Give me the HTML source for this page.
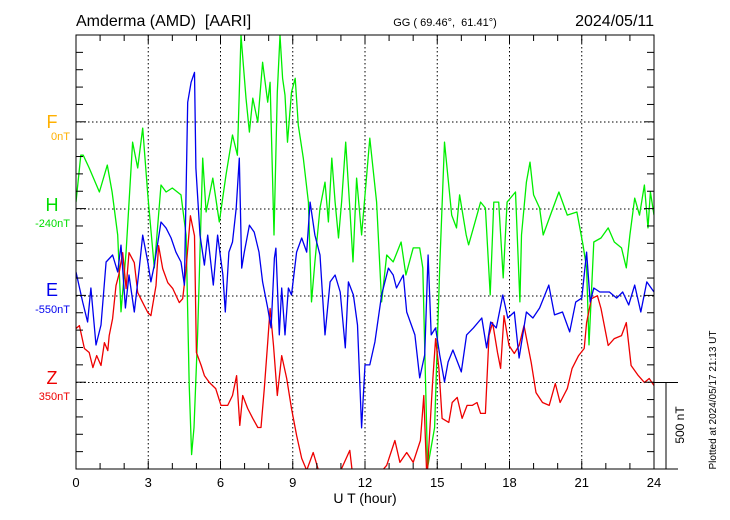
<!DOCTYPE html>
<html><head><meta charset="utf-8"><style>
body{margin:0;background:#fff}
svg{display:block;font-family:"Liberation Sans",sans-serif}
</style></head><body>
<svg id="chart" width="730" height="520" viewBox="0 0 730 520" xmlns="http://www.w3.org/2000/svg">
<defs><clipPath id="plotClip"><rect x="76" y="35" width="578" height="434"/></clipPath></defs>
<text x="76" y="26" font-size="16">Amderma (AMD)&#160; [AARI]</text>
<text x="445" y="26" font-size="11" text-anchor="middle">GG ( 69.46°,&#160; 61.41°)</text>
<text x="654" y="26" font-size="16" text-anchor="end">2024/05/11</text>
<g id="grid"></g>
<g id="series" clip-path="url(#plotClip)"></g>
<g id="axes"></g>
<text x="52" y="128" font-size="18" fill="#ffb000" text-anchor="middle">F</text>
<text x="70" y="140" font-size="11" fill="#ffb000" text-anchor="end">0nT</text>
<text x="52" y="211" font-size="18" fill="#00dd00" text-anchor="middle">H</text>
<text x="70" y="227" font-size="11" fill="#00dd00" text-anchor="end">-240nT</text>
<text x="52" y="296" font-size="18" fill="#0000ee" text-anchor="middle">E</text>
<text x="70" y="313" font-size="11" fill="#0000ee" text-anchor="end">-550nT</text>
<text x="52" y="384" font-size="18" fill="#ee0000" text-anchor="middle">Z</text>
<text x="70" y="400" font-size="11" fill="#ee0000" text-anchor="end">350nT</text>
<text x="365" y="503" font-size="14" text-anchor="middle">U T (hour)</text>
<text x="0" y="0" font-size="12" text-anchor="middle" transform="translate(684,425) rotate(-90)">500 nT</text>
<text x="0" y="0" font-size="10" text-anchor="middle" transform="translate(716,400) rotate(-90)">Plotted at 2024/05/17 21:13 UT</text>
</svg>
<script>
const xTicks=[0,3,6,9,12,15,18,21,24];
const hTimes=[0,0.2,0.3,0.55,0.97,1.3,1.5,1.73,1.87,2.08,2.35,2.56,2.77,2.98,3.25,3.53,3.74,4.0,4.36,4.57,4.7,4.8,4.9,5.05,5.26,5.4,5.68,5.95,6.23,6.5,6.7,6.85,7.06,7.2,7.34,7.55,7.75,7.96,8.06,8.22,8.36,8.47,8.58,8.68,8.78,8.95,9.1,9.23,9.44,9.65,9.78,9.92,10.13,10.34,10.48,10.62,10.76,10.9,11.03,11.2,11.37,11.5,11.65,11.86,12.07,12.2,12.48,12.69,12.9,13.17,13.5,13.7,14,14.27,14.4,14.6,14.89,15.1,15.3,15.6,15.8,15.93,16.2,16.3,16.5,16.8,17,17.2,17.35,17.55,17.74,17.9,18.25,18.43,18.5,18.7,18.85,19,19.25,19.4,19.7,20.05,20.4,20.8,21.05,21.2,21.3,21.5,21.8,22.1,22.35,22.65,22.85,23,23.2,23.4,23.6,23.75,23.85,24];
const hValues=[40,310,310,236,98,253,98,-150,-592,-247,385,236,466,81,-339,138,98,121,81,-150,-1012,-1415,-1259,-725,293,-17,178,-75,196,426,310,1000,638,443,638,500,845,615,730,-150,673,1000,753,656,385,673,753,483,293,40,-535,-305,6,155,-75,293,40,-167,40,385,6,-305,178,-150,196,408,40,-535,-265,-305,-190,-380,-224,-224,-339,-1489,-1259,-339,385,-35,-109,81,-150,-207,-109,40,6,-495,40,40,-397,40,98,-535,-150,155,270,81,6,-150,-35,98,-35,-17,-207,-339,-782,-190,-167,-109,-190,-224,-339,-150,63,-35,138,-109,98,-35];
const eTimes=[0,0.28,0.48,0.62,0.83,1.04,1.25,1.52,1.73,1.87,2.05,2.2,2.42,2.63,2.77,2.98,3.11,3.25,3.53,3.74,3.95,4.15,4.36,4.5,4.64,4.78,4.92,4.98,5.15,5.33,5.47,5.7,5.88,6.1,6.2,6.35,6.5,6.65,6.78,6.88,6.99,7.2,7.4,7.6,7.75,7.96,8.1,8.24,8.3,8.44,8.54,8.68,8.82,8.95,9.16,9.37,9.58,9.72,9.92,10.13,10.34,10.55,10.76,10.97,11.18,11.31,11.52,11.69,11.86,12.0,12.2,12.41,12.69,12.97,13.17,13.31,13.59,13.73,14.07,14.27,14.48,14.62,14.75,14.93,15.1,15.3,15.45,15.65,16.0,16.22,16.5,16.85,17.05,17.22,17.45,17.72,17.93,18.2,18.4,18.7,18.97,19.25,19.63,19.87,20.2,20.5,20.75,21.0,21.2,21.35,21.5,21.75,22.15,22.45,22.7,22.95,23.2,23.45,23.7,24];
const eValues=[138,-35,-150,46,-282,-167,196,236,138,293,-69,121,-92,161,351,196,81,178,426,391,334,253,196,63,1116,1231,1288,736,351,178,351,63,351,121,-92,253,311,506,794,161,253,408,368,253,81,-69,-184,219,276,-224,46,-224,46,6,253,334,253,541,351,236,-224,81,121,23,-299,81,6,-167,-759,-397,-397,-265,6,161,121,46,121,-92,-224,-472,-339,236,-224,-184,-339,-495,-380,-311,-437,-224,-184,-127,-299,-150,-184,6,-127,-92,-357,-92,-127,-69,63,-109,-92,-207,-35,-12,253,-35,46,23,23,-12,23,-52,63,-92,81,23];
const zTimes=[0,0.14,0.35,0.55,0.7,0.86,1.04,1.18,1.32,1.38,1.52,1.66,1.77,1.94,2.08,2.2,2.42,2.56,2.77,2.98,3.11,3.32,3.43,3.6,3.81,4.02,4.29,4.43,4.57,4.75,4.92,5.0,5.2,5.33,5.54,5.8,6.02,6.3,6.5,6.67,6.8,6.92,7.13,7.34,7.55,7.68,7.82,7.96,8.06,8.2,8.36,8.54,8.75,8.95,9.16,9.37,9.58,9.85,10.13,10.5,10.9,11.37,11.5,12.2,12.9,13.24,13.45,13.73,14.0,14.3,14.44,14.57,14.8,14.93,15.07,15.2,15.48,15.62,15.83,16.03,16.24,16.45,16.65,16.8,17.0,17.15,17.3,17.5,17.63,17.77,17.98,18.2,18.4,18.6,18.9,19.1,19.37,19.65,19.9,20.1,20.4,20.6,20.87,21.1,21.2,21.4,21.65,21.8,22.1,22.35,22.65,22.85,23.05,23.35,23.6,23.8,24];
const zValues=[311,328,196,173,86,155,98,230,184,270,368,558,615,748,541,748,690,518,460,403,385,558,788,656,575,541,460,483,656,960,845,173,98,40,0,-35,-132,-132,-75,40,-247,-75,-150,-207,-259,-259,-35,230,426,213,-75,155,23,-150,-305,-437,-506,-403,-535,-563,-535,-391,-552,-592,-477,-334,-460,-403,-460,-334,-75,-563,-17,253,81,-207,-230,-115,-86,-207,-132,-132,-115,-178,-178,270,345,173,81,385,213,167,213,328,115,-58,-115,-132,-6,-115,-35,81,155,196,345,483,500,426,213,253,270,345,98,40,0,23,-17];

const NS='http://www.w3.org/2000/svg';
const X0=76,X1=654,Y0=35,Y1=469;
const nTperPx=500/86.8;
function xScale(h){return X0+h*(X1-X0)/24;}
function yScale(dev,baseY){return baseY-dev/nTperPx;}
function mk(tag,attrs,parent){const e=document.createElementNS(NS,tag);for(const k in attrs)e.setAttribute(k,attrs[k]);parent.appendChild(e);return e;}
const grid=document.getElementById('grid'),axes=document.getElementById('axes'),series=document.getElementById('series');
const baselines=[122,209,296,382.5];
xTicks.slice(1,-1).forEach(t=>{const l=mk('line',{x1:xScale(t),x2:xScale(t),y1:Y0,y2:Y1,stroke:'#000','stroke-width':1,'stroke-dasharray':'1.5,2.5'},grid);

});
baselines.forEach(y=>{const l=mk('line',{x1:X0,x2:X1,y1:y,y2:y,stroke:'#000','stroke-width':1,'stroke-dasharray':'1.5,2.5'},grid);

});
const box=mk('rect',{x:X0,y:Y0,width:X1-X0,height:Y1-Y0,fill:'none',stroke:'#000','stroke-width':1},axes);


for(let h=1;h<24;h++){const big=h%3===0;const x=xScale(h);
mk('line',{x1:x,x2:x,y1:Y1,y2:Y1-(big?8:6),stroke:'#000'},axes);
mk('line',{x1:x,x2:x,y1:Y0,y2:Y0+(big?8:6),stroke:'#000'},axes);}
for(let i=1;i<25;i++){const y=Y0+i*86.8/5;if(y>Y1-1)break;const big=i%5===0;
mk('line',{x1:X0,x2:X0+(big?10:7),y1:y,y2:y,stroke:'#000'},axes);
mk('line',{x1:X1,x2:X1-(big?10:7),y1:y,y2:y,stroke:'#000'},axes);}
xTicks.forEach(t=>{const tx=mk('text',{x:xScale(t),y:487,'font-size':13,'text-anchor':'middle'},axes);tx.textContent=t;

});
const sb=mk('g',{},axes);


mk('line',{x1:X1,x2:678,y1:382.5,y2:382.5,stroke:'#000'},sb);
mk('line',{x1:X1,x2:678,y1:Y1,y2:Y1,stroke:'#000'},sb);
mk('line',{x1:666,x2:666,y1:382.5,y2:Y1,stroke:'#000'},sb);
function draw(times,vals,baseY,color,name){let d='';times.forEach((t,i)=>{d+=(i?'L':'M')+xScale(t).toFixed(1)+','+yScale(vals[i],baseY).toFixed(1);});
const p=mk('path',{d:d,fill:'none',stroke:color,'stroke-width':1.3,'stroke-linejoin':'round'},series);

}
draw(hTimes,hValues,209,'#00ee00','h-component-line');
draw(zTimes,zValues,382.5,'#ee0000','z-component-line');
draw(eTimes,eValues,296,'#0000ee','e-component-line');
</script>
</body></html>
